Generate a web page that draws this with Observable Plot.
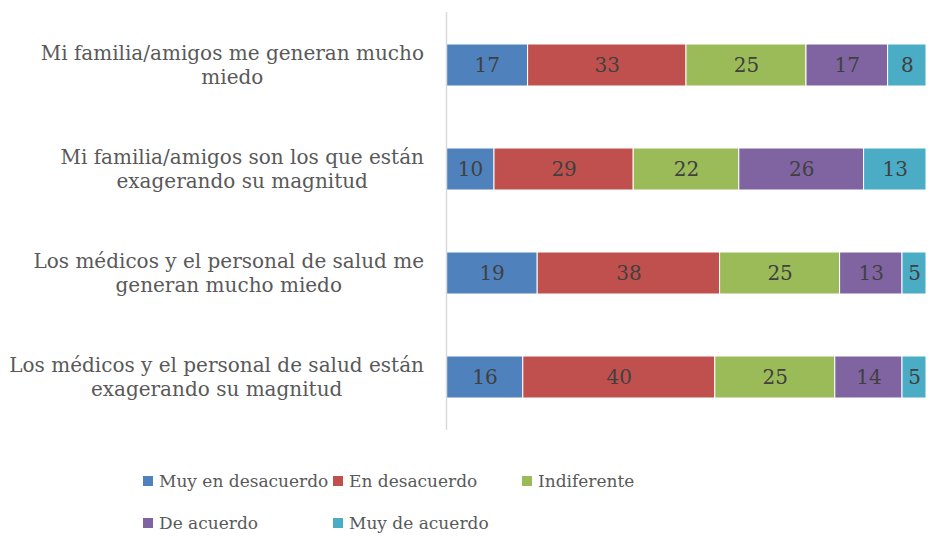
<!DOCTYPE html>
<html>
<head>
<meta charset="utf-8">
<script src="https://cdn.jsdelivr.net/npm/d3@7"></script>
<script src="https://cdn.jsdelivr.net/npm/@observablehq/plot@0.6"></script>
<style>
  body { margin: 0; background: #fff; font-family: "DejaVu Serif", serif; }
  #legend { position: relative; width: 930px; height: 96px; margin-top: 0; }
  .item { position: absolute; display: flex; align-items: center; font-size: 17px; color: #595959; white-space: nowrap; }
  .sw { width: 10px; height: 10px; margin-right: 6px; }
</style>
</head>
<body>
<div id="chart"></div>
<div id="legend"></div>
<script>
const categories = [
  "Mi familia/amigos me generan mucho miedo",
  "Mi familia/amigos son los que están exagerando su magnitud",
  "Los médicos y el personal de salud me generan mucho miedo",
  "Los médicos y el personal de salud están exagerando su magnitud"
];
const tickLabels = [
  ["Mi familia/amigos me generan mucho", "miedo"],
  ["Mi familia/amigos son los que están", "exagerando su magnitud"],
  ["Los médicos y el personal de salud me", "generan mucho miedo"],
  ["Los médicos y el personal de salud están", "exagerando su magnitud"]
];
const series = ["Muy en desacuerdo", "En desacuerdo", "Indiferente", "De acuerdo", "Muy de acuerdo"];
const colors = ["#4F81BD", "#C0504D", "#9BBB59", "#8064A2", "#4BACC6"];
const muyEnDesacuerdo = [17, 10, 19, 16];
const enDesacuerdo = [33, 29, 38, 40];
const indiferente = [25, 22, 25, 25];
const deAcuerdo = [17, 26, 13, 14];
const muyDeAcuerdo = [8, 13, 5, 5];
const seriesValues = [muyEnDesacuerdo, enDesacuerdo, indiferente, deAcuerdo, muyDeAcuerdo];

const data = [];
series.forEach((s, si) => {
  categories.forEach((c, ci) => data.push({ cat: c, series: s, value: seriesValues[si][ci] }));
});

const chart = Plot.plot({
  width: 930,
  height: 440,
  marginLeft: 446,
  marginRight: 4,
  marginTop: 12,
  marginBottom: 10,
  style: { fontFamily: "DejaVu Serif", background: "#fff" },
  x: { domain: [0, 100], axis: null },
  y: { domain: categories, paddingInner: 0.6, paddingOuter: 0.3, axis: null },
  color: { domain: series, range: colors },
  marks: [
    Plot.barX(data, Plot.stackX({ x: "value", y: "cat", fill: "series", z: "series", stroke: "#fff", strokeWidth: 1 })),
    Plot.text(data, Plot.stackX({ x: "value", y: "cat", z: "series", text: "value", fill: "#404040", fontSize: 20 })),
    Plot.ruleX([0], { stroke: "#d9d9d9", strokeWidth: 1.5 })
  ]
});
document.getElementById("chart").append(chart);

// category labels: block right-aligned, lines centered
const ys = chart.scale("y");
const svg = d3.select(chart);
const g = svg.append("g").attr("fill", "#595959").attr("font-size", 20).attr("font-family", "DejaVu Serif");
categories.forEach((c, i) => {
  const yc = ys.apply(c) + ys.bandwidth / 2;
  const lines = tickLabels[i];
  const lh = 24;
  const t = g.append("text").attr("text-anchor", "middle");
  lines.forEach((ln, li) => {
    t.append("tspan").attr("x", 0).attr("y", yc + (li - (lines.length - 1) / 2) * lh).attr("dy", "0.35em").text(ln);
  });
  const w = t.node().getBBox().width;
  t.attr("transform", `translate(${424 - w / 2},0)`);
});

// legend
const legend = document.getElementById("legend");
const pos = [[143, 20], [333, 20], [522, 20], [143, 62], [333, 62]];
series.forEach((s, i) => {
  const d = document.createElement("div");
  d.className = "item";
  d.style.left = pos[i][0] + "px";
  d.style.top = pos[i][1] + "px";
  d.style.height = "42px";
  d.innerHTML = `<span class="sw" style="background:${colors[i]}"></span><span>${s}</span>`;
  legend.append(d);
});
</script>
</body>
</html>
